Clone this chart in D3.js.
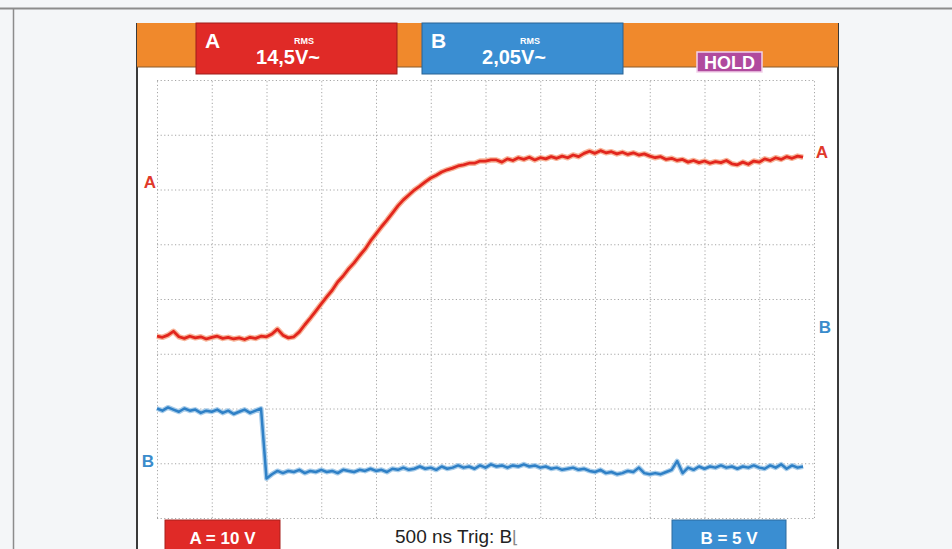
<!DOCTYPE html>
<html>
<head>
<meta charset="utf-8">
<script src="https://cdn.jsdelivr.net/npm/d3@7"></script>
<style>
  body { margin: 0; background: #f4f6f8; }
  svg { display: block; }
  .grid line { stroke: #a6a6a6; stroke-width: 1; stroke-dasharray: 1.2,2.4; }
  .grid .domain { display: none; }
</style>
</head>
<body>
<div id="chart"></div>
<script>
const W = 952, H = 549;

// 500 ns per division, 12 divisions
const timeTicks = [0, 500, 1000, 1500, 2000, 2500, 3000, 3500, 4000, 4500, 5000, 5500, 6000];
// vertical divisions (8)
const divTicks = [-4, -3, -2, -1, 0, 1, 2, 3, 4];
const sampleNs = 50;

// channel A, volts (10 V/div)
const traceA = [
  -6.8, -7.0, -6.6, -5.9, -6.9, -7.2, -6.8, -7.1, -6.9, -7.3,
  -7.0, -6.8, -7.2, -7.0, -7.3, -7.1, -7.4, -7.0, -7.2, -6.8,
  -6.9, -6.4, -5.5, -6.6, -7.1, -6.9, -6.0, -4.7, -3.5, -2.2,
  -0.9, 0.4, 1.6, 3.1, 4.2, 5.5, 6.6, 7.9, 9.1, 10.6,
  11.9, 13.2, 14.4, 15.7, 17.0, 18.1, 19.0, 19.9, 20.6, 21.4,
  22.1, 22.6, 23.2, 23.6, 23.9, 24.3, 24.5, 24.8, 24.8, 25.2,
  25.2, 25.4, 25.4, 25.0, 25.6, 25.3, 25.8, 25.5, 25.9, 25.4,
  25.8, 25.6, 26.0, 25.7, 26.1, 25.8, 26.3, 26.0, 26.6, 27.0,
  26.6, 27.1, 26.7, 26.9, 26.5, 26.8, 26.4, 26.7, 26.3, 26.5,
  26.1, 25.8, 26.0, 25.5, 25.7, 25.3, 25.5, 25.0, 25.3, 24.9,
  25.2, 24.8, 25.1, 24.9, 25.3, 24.7, 24.5, 25.0, 24.6, 25.2,
  25.0, 25.6, 25.3, 25.8, 25.5, 26.0, 25.7, 26.1, 25.9
];

// channel B, volts (5 V/div)
const traceB = [
  -10.0, -10.2, -9.9, -10.1, -10.3, -10.0, -10.2, -10.1, -10.4, -10.2,
  -10.3, -10.1, -10.4, -10.2, -10.5, -10.3, -10.1, -10.4, -10.2, -10.0,
  -16.4, -16.0, -15.7, -15.9, -15.7, -15.8, -15.6, -15.9, -15.7, -15.8,
  -15.6, -15.8, -15.7, -15.9, -15.6, -15.7, -15.8, -15.6, -15.7, -15.5,
  -15.7, -15.6, -15.8, -15.5, -15.6, -15.4, -15.6, -15.5, -15.3, -15.5,
  -15.4, -15.6, -15.3, -15.5, -15.4, -15.2, -15.4, -15.3, -15.5, -15.2,
  -15.4, -15.1, -15.3, -15.2, -15.4, -15.2, -15.3, -15.1, -15.3, -15.2,
  -15.4, -15.3, -15.5, -15.4, -15.6, -15.5, -15.4, -15.6, -15.5, -15.7,
  -15.8, -15.6, -15.9, -15.8, -16.0, -15.9, -15.7, -15.8, -15.4, -15.9,
  -16.0, -15.9, -16.0, -15.8, -15.6, -14.8, -15.9, -15.4, -15.6, -15.3,
  -15.5, -15.3, -15.4, -15.2, -15.4, -15.3, -15.5, -15.3, -15.4, -15.2,
  -15.4, -15.5, -15.2, -15.4, -15.1, -15.5, -15.2, -15.4, -15.3
];

const plot = { left: 157, right: 814, top: 80, bottom: 518 };

const xScale = d3.scaleLinear()
  .domain([0, 6000])
  .range([plot.left, plot.right])

const yDiv = d3.scaleLinear()
  .domain([-4, 4])
  .range([plot.bottom, plot.top])

const yA = d3.scaleLinear()
  .domain([-40, 40])
  .range([plot.bottom, plot.top])

const yB = d3.scaleLinear()
  .domain([-20, 20])
  .range([plot.bottom, plot.top])

const svg = d3.select('#chart').append('svg')
  .attr('width', W)
  .attr('height', H)

// outer page frame
svg.append('rect').attr('x', 0).attr('y', 0).attr('width', W).attr('height', H).attr('fill', '#f4f6f8')
svg.append('line').attr('x1', 0).attr('x2', W).attr('y1', 8.5).attr('y2', 8.5)
  .attr('stroke', '#8c8c8c').attr('stroke-width', 2)
svg.append('line').attr('x1', 13.5).attr('x2', 13.5).attr('y1', 9).attr('y2', H)
  .attr('stroke', '#8c8c8c').attr('stroke-width', 1.5)

// scope screen
svg.append('rect')
  .attr('x', 137).attr('y', 23).attr('width', 701).attr('height', H - 23)
  .attr('fill', '#ffffff')
svg.append('line').attr('x1', 137).attr('x2', 137).attr('y1', 23).attr('y2', H)
  .attr('stroke', '#3a3a3a').attr('stroke-width', 2)
svg.append('line').attr('x1', 838).attr('x2', 838).attr('y1', 23).attr('y2', H)
  .attr('stroke', '#3a3a3a').attr('stroke-width', 2)

// top orange status bar
svg.append('rect')
  .attr('x', 137).attr('y', 23).attr('width', 701).attr('height', 44)
  .attr('fill', '#f0892c')
svg.append('line').attr('x1', 137).attr('x2', 838).attr('y1', 67).attr('y2', 67)
  .attr('stroke', '#8a5a2a').attr('stroke-width', 1)

// grid
svg.append('g')
  .attr('class', 'grid')
  .attr('transform', `translate(0, ${plot.bottom})`)
  .call(d3.axisBottom(xScale).tickValues(timeTicks).tickSize(-(plot.bottom - plot.top)).tickFormat(''))

svg.append('g')
  .attr('class', 'grid')
  .attr('transform', `translate(${plot.left}, 0)`)
  .call(d3.axisLeft(yDiv).tickValues(divTicks).tickSize(-(plot.right - plot.left)).tickFormat(''))

// traces
const lineA = d3.line()
  .x((d, i) => xScale(i * sampleNs))
  .y(d => yA(d))

const lineB = d3.line()
  .x((d, i) => xScale(i * sampleNs))
  .y(d => yB(d))

svg.append('path').datum(traceA)
  .attr('d', lineA).attr('fill', 'none')
  .attr('stroke', '#f7b59a').attr('stroke-width', 5.5).attr('stroke-linejoin', 'round')
svg.append('path').datum(traceA)
  .attr('d', lineA).attr('fill', 'none')
  .attr('stroke', '#e2261d').attr('stroke-width', 2.8).attr('stroke-linejoin', 'round')

svg.append('path').datum(traceB)
  .attr('d', lineB).attr('fill', 'none')
  .attr('stroke', '#a9cdea').attr('stroke-width', 5).attr('stroke-linejoin', 'round')
svg.append('path').datum(traceB)
  .attr('d', lineB).attr('fill', 'none')
  .attr('stroke', '#2f80c6').attr('stroke-width', 2.5).attr('stroke-linejoin', 'round')

// channel markers
const bold = 'Liberation Sans, Arial, sans-serif';
function marker(x, y, txt, color) {
  svg.append('text').attr('x', x).attr('y', y)
    .attr('fill', color).attr('font-family', bold).attr('font-weight', 'bold')
    .attr('font-size', 17).attr('text-anchor', 'middle').text(txt)
}
marker(150, 188, 'A', '#e0392b')
marker(148, 467, 'B', '#3a8ccc')
marker(822, 158, 'A', '#e0392b')
marker(825, 333, 'B', '#3a8ccc')

// readout boxes
const narrow = 'Liberation Sans Narrow, Liberation Sans, Arial, sans-serif';
function readout(x, color, ch, value) {
  const g = svg.append('g')
  g.append('rect').attr('x', x).attr('y', 23).attr('width', 201).attr('height', 51)
    .attr('fill', color).attr('stroke', d3.color(color).darker(1)).attr('stroke-width', 1)
  g.append('text').attr('x', x + 9).attr('y', 48).attr('fill', '#fff')
    .attr('font-family', narrow).attr('font-weight', 'bold').attr('font-size', 21).text(ch)
  g.append('text').attr('x', x + 108).attr('y', 44).attr('fill', '#fff').attr('text-anchor', 'middle')
    .attr('font-family', narrow).attr('font-weight', 'bold').attr('font-size', 9).text('RMS')
  g.append('text').attr('x', x + 92).attr('y', 64).attr('fill', '#fff').attr('text-anchor', 'middle')
    .attr('font-family', narrow).attr('font-weight', 'bold').attr('font-size', 20).text(value)
}
readout(196, '#e02a27', 'A', '14,5V~')
readout(422, '#3a8ed2', 'B', '2,05V~')

svg.append('rect').attr('x', 697).attr('y', 52).attr('width', 65).attr('height', 20)
  .attr('fill', '#b04a9e').attr('stroke', '#f2d2ea').attr('stroke-width', 1.5)
svg.append('text').attr('x', 729.5).attr('y', 68.5).attr('fill', '#fff').attr('text-anchor', 'middle')
  .attr('font-family', narrow).attr('font-weight', 'bold').attr('font-size', 18).text('HOLD')

// bottom scale boxes
function scaleBox(x, w, color, txt) {
  svg.append('rect').attr('x', x).attr('y', 520).attr('width', w).attr('height', 32)
    .attr('fill', color).attr('stroke', d3.color(color).darker(0.8)).attr('stroke-width', 1)
  svg.append('text').attr('x', x + w / 2).attr('y', 544).attr('fill', '#fff').attr('text-anchor', 'middle')
    .attr('font-family', narrow).attr('font-weight', 'bold').attr('font-size', 17).text(txt)
}
scaleBox(165, 115, '#e02a27', 'A = 10 V')
scaleBox(672, 114, '#3a8ed2', 'B = 5 V')

const tb = svg.append('text').attr('x', 395).attr('y', 543).attr('fill', '#222')
  .attr('font-family', narrow).attr('font-size', 19)
tb.append('tspan').text('500 ns Trig: B')
tb.append('tspan').attr('fill', '#888').attr('font-size', 17).text('⌊')
</script>
</body>
</html>
